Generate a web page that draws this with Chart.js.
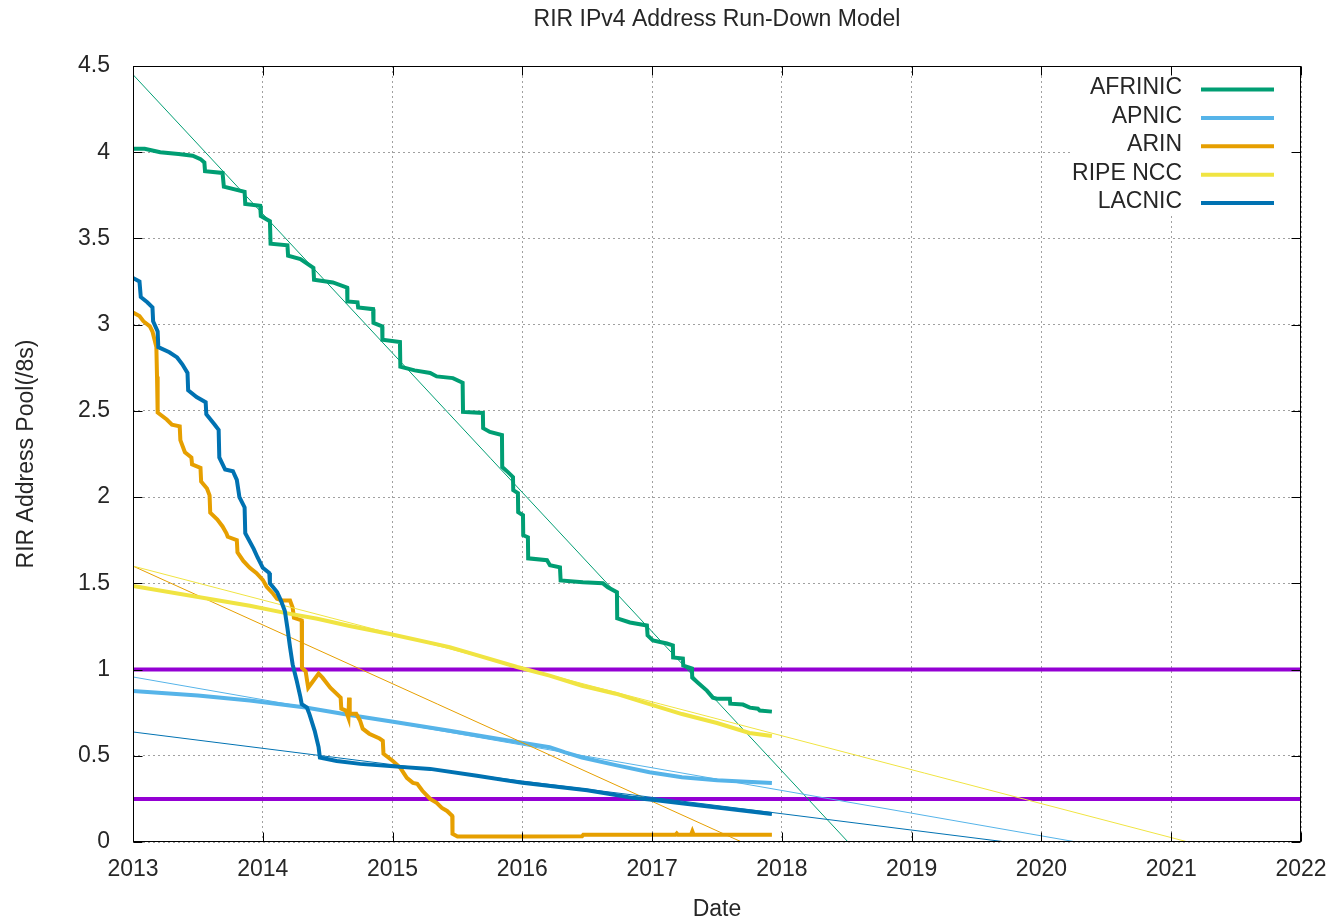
<!DOCTYPE html>
<html>
<head>
<meta charset="utf-8">
<script src="https://cdn.jsdelivr.net/npm/chart.js@4.4.1/dist/chart.umd.min.js"></script>
<style>
html,body{margin:0;padding:0;background:#fff;}
#wrap{width:1331px;height:923px;}
</style>
</head>
<body>
<div id="wrap"><canvas id="c" width="1331" height="923"></canvas></div>
<script>
// ---------------- DATA ----------------
const chartTitle = 'RIR IPv4 Address Run-Down Model';
const xTitle = 'Date';
const yTitle = 'RIR Address Pool(/8s)';
const seriesNames = ['AFRINIC', 'APNIC', 'ARIN', 'RIPE NCC', 'LACNIC'];
const seriesColors = ['#009e73', '#56b4e9', '#e69f00', '#f0e442', '#0072b2'];
const thresholdValues = [1.0, 0.25];
const thresholdColor = '#9400d3';
const xMin = 2013, xMax = 2022, xStep = 1;
const yMin = 0, yMax = 4.5, yStep = 0.5;

// [decimal year, /8s]
const afrinicPool = [
  [2013.000,4.02],[2013.09,4.02],[2013.21,4.00],[2013.35,3.99],[2013.46,3.98],[2013.52,3.96],[2013.55,3.94],
  [2013.555,3.89],[2013.69,3.88],[2013.70,3.80],[2013.86,3.77],[2013.865,3.70],[2013.98,3.69],[2013.985,3.63],
  [2014.055,3.60],[2014.06,3.47],[2014.19,3.46],[2014.195,3.40],[2014.29,3.38],[2014.39,3.33],[2014.395,3.26],
  [2014.54,3.245],[2014.65,3.215],[2014.652,3.135],[2014.73,3.13],[2014.735,3.10],[2014.85,3.09],[2014.853,3.01],
  [2014.92,2.99],[2014.922,2.913],[2015.057,2.90],[2015.06,2.756],[2015.17,2.735],[2015.29,2.72],[2015.34,2.70],
  [2015.465,2.69],[2015.54,2.663],[2015.543,2.494],[2015.696,2.488],[2015.698,2.40],[2015.75,2.378],[2015.843,2.36],
  [2015.845,2.174],[2015.889,2.145],[2015.928,2.116],[2015.93,2.041],[2015.966,2.023],[2015.968,1.913],
  [2016.005,1.895],[2016.007,1.779],[2016.043,1.767],[2016.045,1.645],[2016.19,1.634],[2016.213,1.605],
  [2016.29,1.593],[2016.295,1.517],[2016.467,1.506],[2016.621,1.50],[2016.659,1.477],[2016.729,1.448],
  [2016.731,1.297],[2016.829,1.273],[2016.96,1.256],[2016.965,1.198],[2017.006,1.169],[2017.114,1.151],
  [2017.16,1.14],[2017.162,1.07],[2017.237,1.064],[2017.24,1.023],[2017.307,1.006],[2017.309,0.953],
  [2017.353,0.924],[2017.422,0.878],[2017.468,0.837],[2017.499,0.831],[2017.599,0.831],[2017.602,0.802],
  [2017.70,0.797],[2017.753,0.779],[2017.815,0.773],[2017.83,0.762],[2017.923,0.756]
];
const apnicPool = [
  [2013.0,0.875],[2013.5,0.85],[2013.9,0.82],[2014.33,0.78],[2014.67,0.737],[2014.98,0.70],[2015.44,0.645],
  [2015.96,0.58],[2016.21,0.55],[2016.33,0.52],[2016.46,0.49],[2016.72,0.446],[2016.98,0.405],[2017.23,0.376],
  [2017.5,0.358],[2017.923,0.342]
];
const arinPool = [
  [2013.0,3.07],[2013.05,3.05],[2013.08,3.02],[2013.13,2.99],[2013.15,2.96],[2013.18,2.87],[2013.185,2.70],
  [2013.19,2.49],[2013.26,2.45],[2013.30,2.42],[2013.36,2.41],[2013.365,2.33],[2013.40,2.26],[2013.45,2.23],
  [2013.455,2.19],[2013.52,2.17],[2013.525,2.09],[2013.57,2.05],[2013.59,2.01],[2013.595,1.91],[2013.65,1.87],
  [2013.69,1.83],[2013.72,1.79],[2013.73,1.77],[2013.80,1.75],[2013.805,1.68],[2013.85,1.63],[2013.90,1.59],
  [2013.95,1.56],[2014.00,1.52],[2014.03,1.48],[2014.08,1.44],[2014.11,1.41],[2014.15,1.40],[2014.21,1.40],
  [2014.23,1.36],[2014.24,1.30],[2014.30,1.285],[2014.302,1.01],[2014.33,0.99],[2014.35,0.895],[2014.38,0.925],
  [2014.43,0.977],[2014.46,0.953],[2014.52,0.895],[2014.60,0.837],[2014.605,0.773],[2014.64,0.762],[2014.66,0.72],
  [2014.665,0.837],[2014.67,0.744],[2014.72,0.744],[2014.75,0.703],[2014.77,0.657],[2014.82,0.628],[2014.90,0.60],
  [2014.925,0.587],[2014.93,0.512],[2015.0,0.471],[2015.06,0.43],[2015.11,0.372],[2015.157,0.343],[2015.19,0.337],
  [2015.23,0.297],[2015.29,0.25],[2015.34,0.227],[2015.38,0.198],[2015.42,0.18],[2015.46,0.151],[2015.462,0.047],
  [2015.50,0.032],[2016.0,0.032],[2016.46,0.033],[2016.47,0.042],[2017.18,0.042],[2017.19,0.05],[2017.2,0.042],
  [2017.30,0.042],[2017.31,0.062],[2017.32,0.042],[2017.923,0.042]
];
const ripePool = [
  [2013.0,1.485],[2013.9,1.37],[2014.16,1.33],[2014.42,1.295],[2014.67,1.253],[2014.98,1.206],[2015.44,1.13],
  [2015.96,1.015],[2016.21,0.965],[2016.46,0.906],[2016.72,0.86],[2016.98,0.80],[2017.23,0.742],[2017.5,0.69],
  [2017.75,0.632],[2017.923,0.615]
];
const lacnicPool = [
  [2013.0,3.27],[2013.05,3.25],[2013.06,3.16],[2013.11,3.13],[2013.15,3.10],[2013.155,3.02],[2013.19,2.96],
  [2013.195,2.87],[2013.28,2.84],[2013.34,2.81],[2013.38,2.77],[2013.42,2.72],[2013.425,2.62],[2013.49,2.58],
  [2013.56,2.55],[2013.565,2.48],[2013.63,2.42],[2013.66,2.39],[2013.665,2.23],[2013.71,2.16],[2013.77,2.15],
  [2013.80,2.10],[2013.82,2.00],[2013.86,1.94],[2013.865,1.79],[2013.93,1.70],[2013.96,1.65],[2014.00,1.59],
  [2014.05,1.56],[2014.055,1.50],[2014.11,1.45],[2014.14,1.40],[2014.17,1.34],[2014.19,1.24],[2014.21,1.13],
  [2014.23,1.03],[2014.26,0.94],[2014.29,0.84],[2014.30,0.80],[2014.34,0.78],[2014.36,0.74],[2014.40,0.645],
  [2014.43,0.55],[2014.44,0.49],[2014.57,0.47],[2014.75,0.453],[2014.98,0.44],[2015.29,0.424],[2015.65,0.384],
  [2016.0,0.343],[2016.5,0.30],[2016.85,0.256],[2017.0,0.245],[2017.5,0.20],[2017.923,0.163]
];
// linear run-down fits: [start], [zero crossing]
const afrinicFit = [[2013,4.45],[2018.51,0]];
const apnicFit   = [[2013,0.957],[2020.27,0]];
const arinFit    = [[2013,1.60],[2017.69,0]];
const ripeFit    = [[2013,1.60],[2021.13,0]];
const lacnicFit  = [[2013,0.638],[2019.73,0]];

const poolSeries = [afrinicPool, apnicPool, arinPool, ripePool, lacnicPool];
const fitSeries = [afrinicFit, apnicFit, arinFit, ripeFit, lacnicFit];

// ---------------- STYLE ----------------
const FONT_FAMILY = '"Liberation Sans", Arial, Helvetica, sans-serif';
const FONT_SIZE = 23;
const TEXT_COLOR = '#262626';

const toXY = arr => arr.map(p => ({x: p[0], y: p[1]}));

const datasets = [];
let orderCounter = 100;
thresholdValues.forEach(v => {
  datasets.push({
    label: 'threshold ' + v,
    data: toXY([[xMin, v], [xMax, v]]),
    borderColor: thresholdColor, borderWidth: 4, pointRadius: 0, fill: false, tension: 0,
    order: orderCounter--, isLegend: false
  });
});
seriesNames.forEach((name, i) => {
  datasets.push({
    label: name, data: toXY(poolSeries[i]),
    borderColor: seriesColors[i], borderWidth: 4, pointRadius: 0, fill: false, tension: 0,
    borderJoinStyle: 'miter', order: orderCounter--, isLegend: true
  });
  datasets.push({
    label: name + ' fit', data: toXY(fitSeries[i]),
    borderColor: seriesColors[i], borderWidth: 1, pointRadius: 0, fill: false, tension: 0,
    order: orderCounter--, isLegend: false
  });
});

const framePlugin = {
  id: 'gnuFrame',
  beforeDatasetsDraw(chart) {
    const {ctx, chartArea: a} = chart;
    ctx.save();
    ctx.fillStyle = '#ffffff';
    ctx.fillRect(a.right - 231, a.top + 1, 230, 148);
    ctx.restore();
  },
  afterDatasetsDraw(chart) {
    const {ctx, chartArea: a} = chart;
    ctx.save();
    // legend
    ctx.font = FONT_SIZE + 'px ' + FONT_FAMILY;
    ctx.textAlign = 'right';
    ctx.textBaseline = 'middle';
    let row = 0;
    chart.data.datasets.forEach(ds => {
      if (!ds.isLegend) return;
      const y = a.top + 22 + row * 28.4;
      ctx.fillStyle = TEXT_COLOR;
      ctx.fillText(ds.label, a.right - 119, y);
      ctx.strokeStyle = ds.borderColor;
      ctx.lineWidth = 4;
      ctx.beginPath();
      ctx.moveTo(a.right - 100, y + 1.5);
      ctx.lineTo(a.right - 27, y + 1.5);
      ctx.stroke();
      row++;
    });
    // border
    const L = Math.round(a.left) + 0.5, R = Math.round(a.right) - 0.5;
    const T = Math.round(a.top) + 0.5, B = Math.round(a.bottom) - 0.5;
    ctx.strokeStyle = '#000';
    ctx.lineWidth = 1;
    ctx.strokeRect(L, T, R - L, B - T);
    // inward ticks
    const xs = chart.scales.x, ys = chart.scales.y;
    const TL = 9;
    ctx.beginPath();
    xs.ticks.forEach(t => {
      const px = Math.round(xs.getPixelForValue(t.value)) + 0.5;
      ctx.moveTo(px, B); ctx.lineTo(px, B - TL);
      ctx.moveTo(px, T); ctx.lineTo(px, T + TL);
    });
    ys.ticks.forEach(t => {
      const py = Math.round(ys.getPixelForValue(t.value)) + 0.5;
      ctx.moveTo(L, py); ctx.lineTo(L + TL, py);
      ctx.moveTo(R, py); ctx.lineTo(R - TL, py);
    });
    ctx.stroke();
    ctx.restore();
  }
};

new Chart(document.getElementById('c'), {
  type: 'line',
  data: {datasets},
  options: {
    responsive: false,
    animation: false,
    devicePixelRatio: 1,
    parsing: true,
    layout: {padding: {left: 0, right: 30, top: 0, bottom: 0}},
    plugins: {
      legend: {display: false},
      tooltip: {enabled: false},
      title: {
        display: true, text: chartTitle, fullSize: false, color: TEXT_COLOR,
        font: {family: FONT_FAMILY, size: FONT_SIZE, weight: 'normal', lineHeight: 1.2},
        padding: {top: 6, bottom: 32.4}
      }
    },
    scales: {
      x: {
        type: 'linear', min: xMin, max: xMax,
        afterFit: s => { s.height = 81; s.paddingLeft = 0; s.paddingRight = 0; },
        ticks: {
          stepSize: xStep, autoSkip: false, maxRotation: 0, padding: 14, color: TEXT_COLOR,
          font: {family: FONT_FAMILY, size: FONT_SIZE},
          callback: v => String(v)
        },
        grid: {color: '#a0a0a0', lineWidth: 1, drawTicks: false},
        border: {display: false, dash: [2, 3]},
        title: {display: true, text: xTitle, color: TEXT_COLOR,
          font: {family: FONT_FAMILY, size: FONT_SIZE, lineHeight: 1.2}, padding: {top: 0, bottom: 0}}
      },
      y: {
        type: 'linear', min: yMin, max: yMax,
        afterFit: s => { s.width = 133; s.paddingTop = 0; s.paddingBottom = 0; },
        ticks: {
          stepSize: yStep, autoSkip: false, padding: 23, color: TEXT_COLOR,
          font: {family: FONT_FAMILY, size: FONT_SIZE},
          callback: v => String(v)
        },
        grid: {color: '#a0a0a0', lineWidth: 1, drawTicks: false},
        border: {display: false, dash: [2, 3]},
        title: {display: true, text: yTitle, color: TEXT_COLOR,
          font: {family: FONT_FAMILY, size: FONT_SIZE, lineHeight: 1.2}, padding: {top: 13, bottom: 0}}
      }
    }
  },
  plugins: [framePlugin]
});
</script>
</body>
</html>
